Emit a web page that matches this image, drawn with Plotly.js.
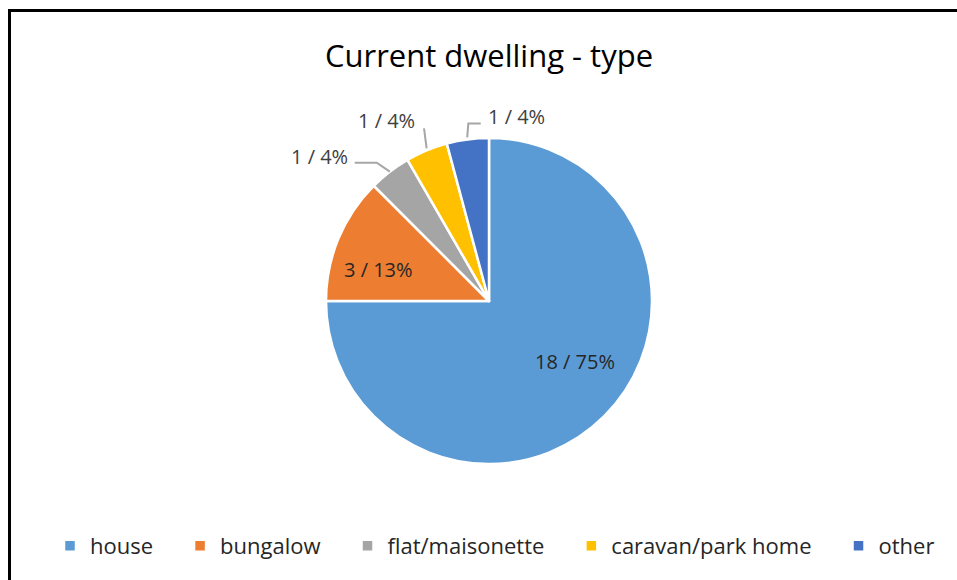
<!DOCTYPE html>
<html>
<head>
<meta charset="utf-8">
<script src="https://cdn.plot.ly/plotly-3.0.1.min.js"></script>
<style>
  html, body { margin: 0; padding: 0; overflow: hidden; background: #fff; }
  #wrap { position: relative; width: 957px; height: 580px; overflow: hidden; }
  #chart { position: absolute; left: 0; top: 0; width: 957px; height: 580px; }
  #frame { position: absolute; left: 8px; top: 9px; width: 1100px; height: 1100px;
           border: 3px solid #000; pointer-events: none; box-sizing: border-box; }
</style>
</head>
<body>
<div id="wrap">
  <div id="chart"></div>
  <div id="frame"></div>
</div>
<script>
// ---- data ----
const categories = ["house", "bungalow", "flat/maisonette", "caravan/park home", "other"];
const counts = [18, 3, 1, 1, 1];
const chartTitle = "Current dwelling - type";

// ---- styles ----
const sliceColors = ["#5B9BD5", "#ED7D31", "#A5A5A5", "#FFC000", "#4472C4"];
const fontFam = "Open Sans, Noto Sans, sans-serif";
const legendPad = "\u2002\u2002"; // visual gap between legend entries

// plot geometry (pixels)
const W = 957, H = 580;
const M = { l: 21, r: 0, t: 138, b: 116 };
const plotW = W - M.l - M.r, plotH = H - M.t - M.b;
const cx = M.l + plotW / 2, cy = M.t + plotH / 2;
const R = Math.min(plotW, plotH) / 2;

// label placement per slice: radial fraction for anchor, text offset, leader line offsets (px)
const labelCfg = [
  { r: 0.6, dx: 17, dy: -9, xanchor: "center", inside: true, line: null },
  { r: 0.6, dx: -20, dy: 6, xanchor: "center", inside: true, line: null },
  { r: 1.0, dx: -40, dy: -15, xanchor: "right", inside: false, line: [[-35, -9], [-13, -9], [0, 0]] },
  { r: 1.0, dx: -40, dy: -30, xanchor: "center", inside: false, line: [[-2.6, -22], [0, -2]] },
  { r: 1.0, dx: 18, dy: -23, xanchor: "left", inside: false, line: [[13, -16], [0.6, -16], [-0.5, -2]] }
];

const px2x = p => (p - M.l) / plotW;
const px2y = p => (H - M.b - p) / plotH;

const total = counts.reduce((a, b) => a + b, 0);
const annotations = [];
const shapes = [];
let cum = 0;
counts.forEach((v, i) => {
  const mid = (cum + v / 2) / total * 2 * Math.PI; // clockwise from 12 o'clock
  cum += v;
  const cfg = labelCfg[i];
  const ax = cx + cfg.r * R * Math.sin(mid);
  const ay = cy - cfg.r * R * Math.cos(mid);
  const txt = v + " / " + Math.round(v / total * 100) + "%";
  annotations.push({
    text: txt, showarrow: false,
    xref: "paper", yref: "paper",
    x: px2x(ax + cfg.dx), y: px2y(ay + cfg.dy),
    xanchor: cfg.xanchor, yanchor: "middle",
    font: { family: fontFam, size: 20, color: cfg.inside ? "#262626" : "#404040" }
  });
  if (cfg.line) {
    const d = cfg.line.map((p, k) => (k ? "L" : "M") + px2x(ax + p[0]) + "," + px2y(ay + p[1])).join(" ");
    shapes.push({
      type: "path", xref: "paper", yref: "paper", path: d,
      line: { color: "#A6A6A6", width: 2 }
    });
  }
});

const trace = {
  type: "pie",
  labels: categories.map((c, i) => i < categories.length - 1 ? c + legendPad : c),
  values: counts,
  sort: false,
  direction: "clockwise",
  rotation: 0,
  marker: { colors: sliceColors, line: { color: "#ffffff", width: 2.5 } },
  textinfo: "none",
  hoverinfo: "label+value+percent",
  automargin: false
};

const layout = {
  width: W,
  height: H,
  paper_bgcolor: "#ffffff",
  margin: { l: M.l, r: M.r, t: M.t, b: M.b, autoexpand: false },
  title: {
    text: chartTitle,
    font: { family: fontFam, size: 31, color: "#000000" },
    x: 0.5, xref: "paper", xanchor: "center",
    y: 1 - 56 / H, yref: "container", yanchor: "middle"
  },
  showlegend: true,
  legend: {
    orientation: "h",
    x: px2x(495), xref: "paper", xanchor: "center",
    y: px2y(546), yanchor: "middle",
    font: { family: fontFam, size: 22, color: "#262626" },
    traceorder: "normal"
  },
  annotations: annotations,
  shapes: shapes
};

Plotly.newPlot("chart", [trace], layout, { displayModeBar: false, staticPlot: true });
</script>
</body>
</html>
